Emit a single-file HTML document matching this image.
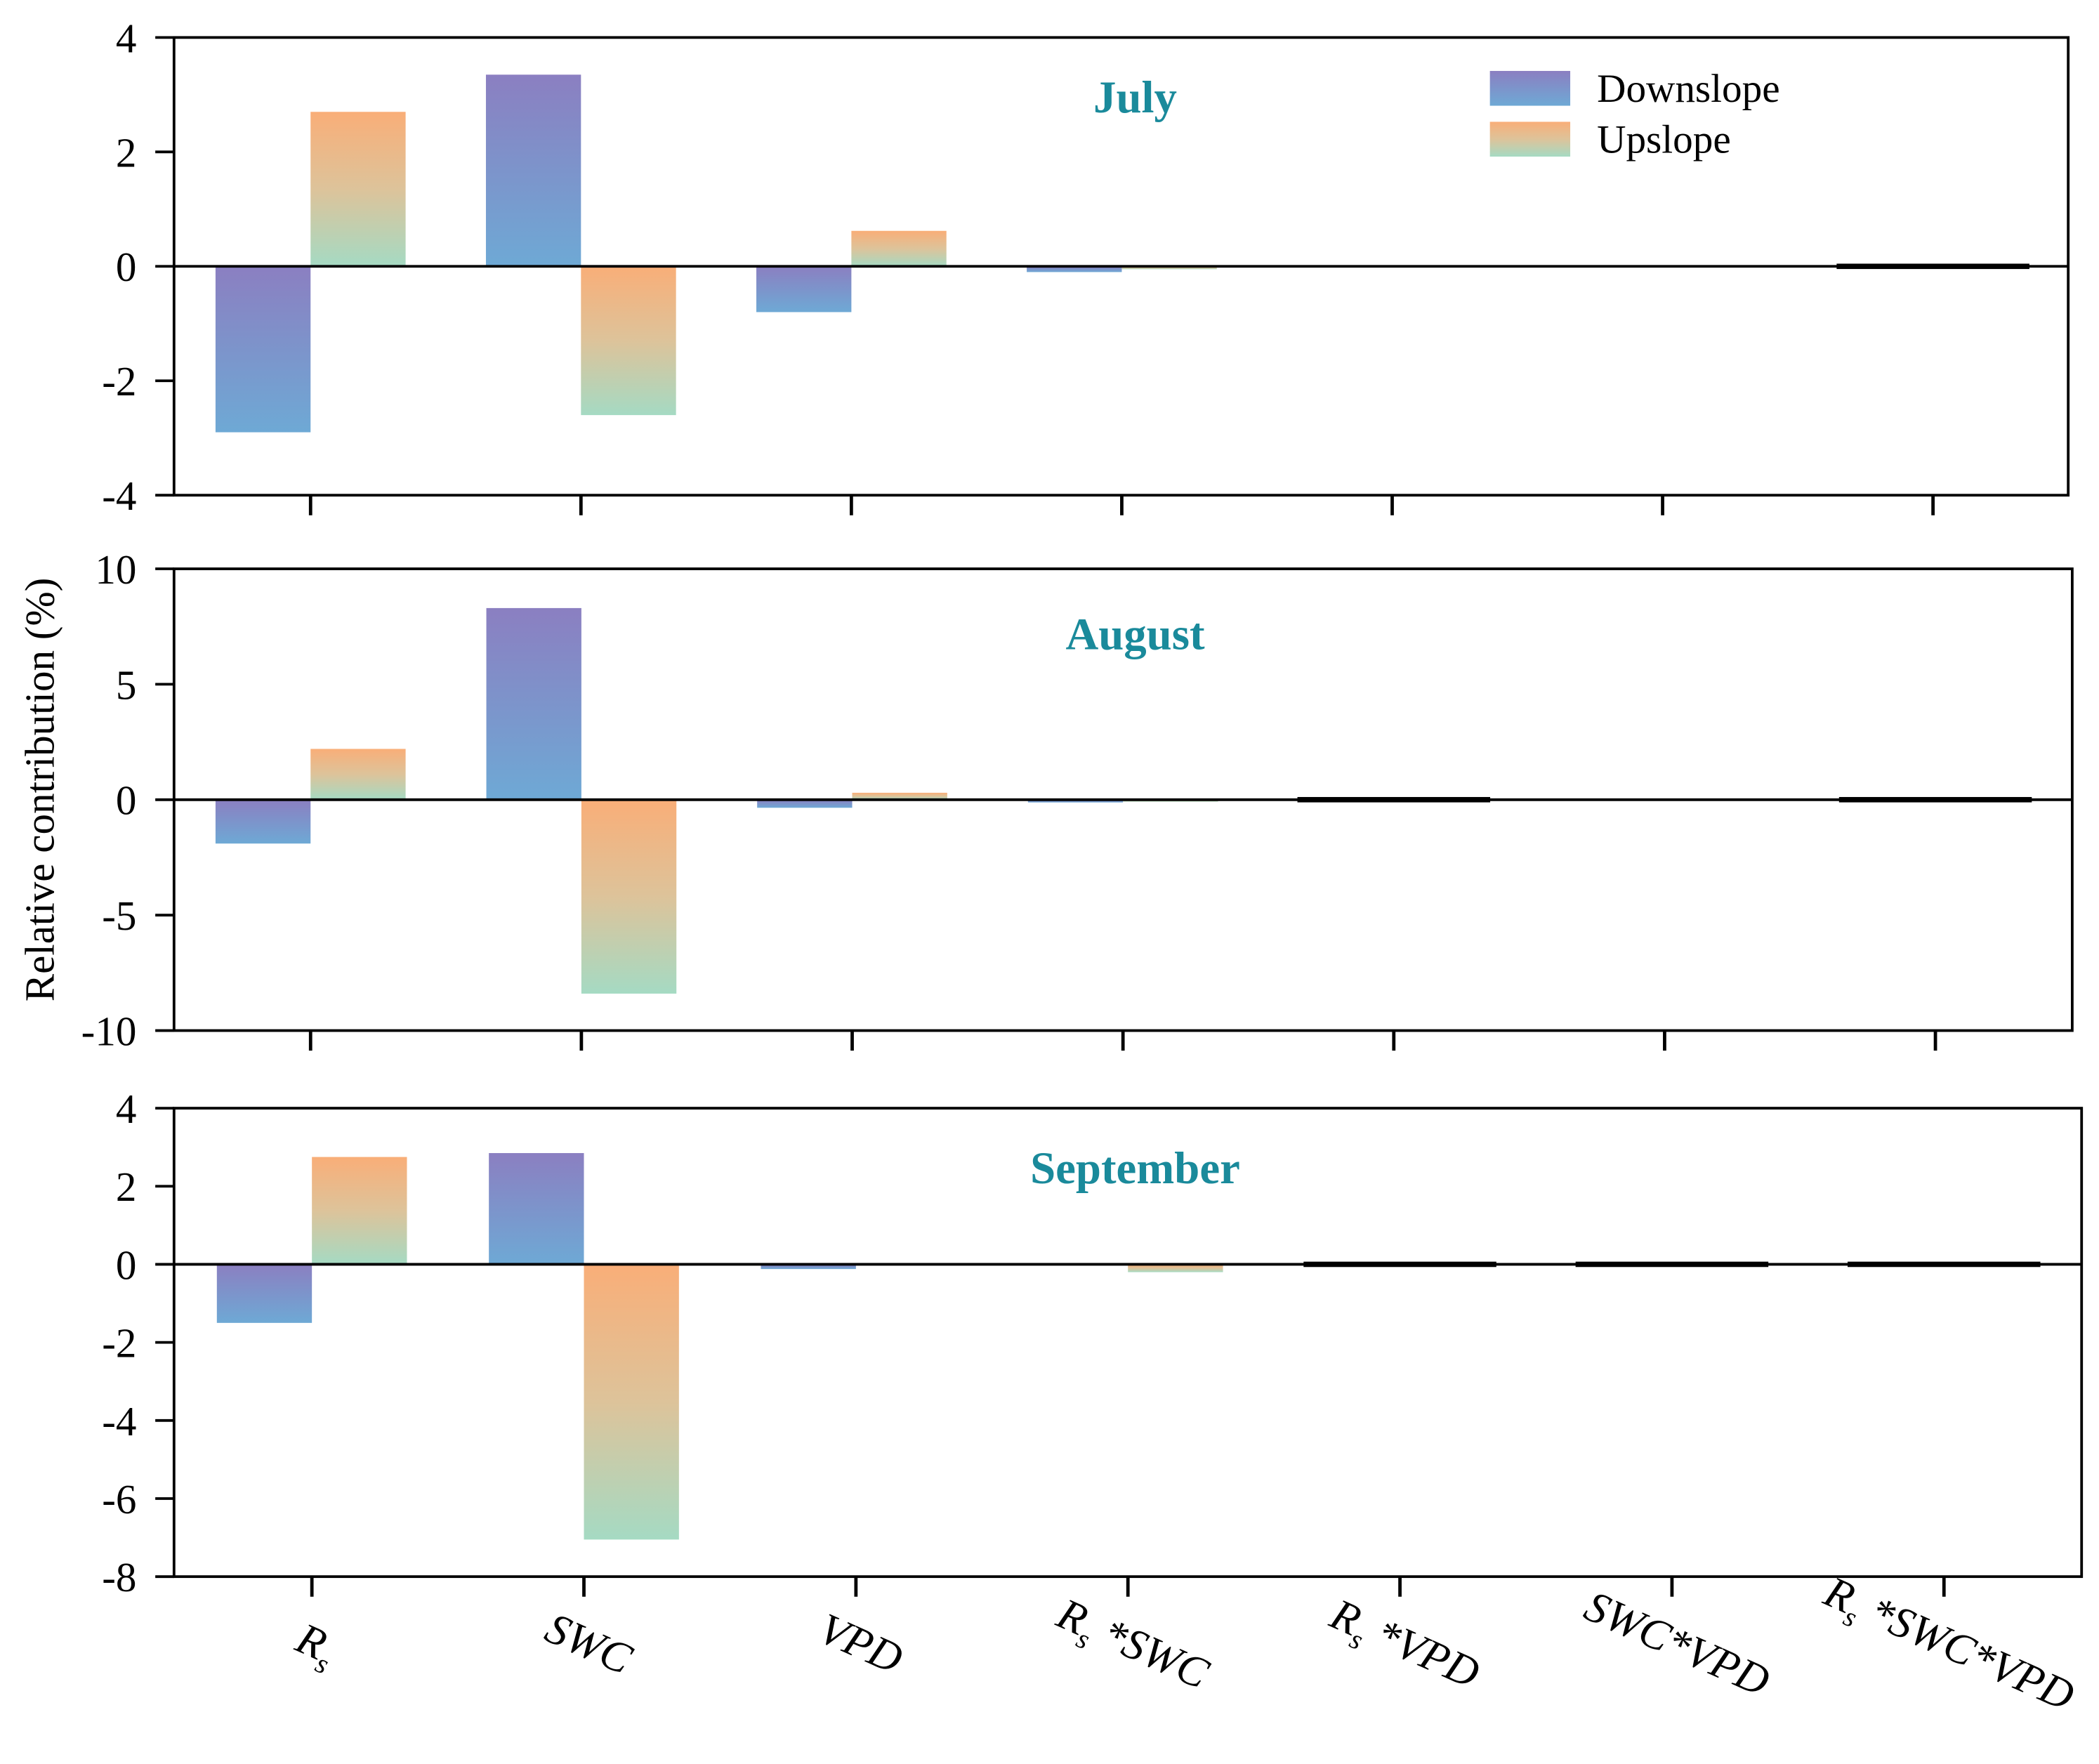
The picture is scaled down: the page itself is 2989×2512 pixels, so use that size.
<!DOCTYPE html>
<html><head><meta charset="utf-8"><style>html,body{margin:0;padding:0;background:#fff}svg{display:block}</style></head>
<body>
<svg id="chart" width="2989" height="2512" viewBox="0 0 1568 1318" preserveAspectRatio="none" xmlns="http://www.w3.org/2000/svg" font-family="'Liberation Serif', serif">
<defs>
<linearGradient id="gDown" x1="0" y1="0" x2="0" y2="1"><stop offset="0" stop-color="#8b7fc1"/><stop offset="1" stop-color="#6ea9d5"/></linearGradient>
<linearGradient id="gUp" x1="0" y1="0" x2="0" y2="1"><stop offset="0" stop-color="#f9ae78"/><stop offset="0.5" stop-color="#ddc39a"/><stop offset="1" stop-color="#a5dac3"/></linearGradient>
</defs>
<g id="root"></g>
</svg>
<script>
const categories = ["Rs","SWC","VPD","Rs*SWC","Rs*VPD","SWC*VPD","Rs*SWC*VPD"];
const months = ["July","August","September"];
const julyDown = [-2.9, 3.35, -0.8, -0.1, 0, 0, 0];
const julyUp = [2.7, -2.6, 0.62, -0.05, 0, 0, 0];
const julyLine = [0,0,0,0,0,0,1];
const augDown = [-1.9, 8.3, -0.35, -0.12, 0, 0, 0];
const augUp = [2.2, -8.4, 0.3, -0.08, 0, 0, 0];
const augLine = [0,0,0,0,1,0,1];
const sepDown = [-1.5, 2.85, -0.12, 0, 0, 0, 0];
const sepUp = [2.75, -7.05, 0, -0.2, 0, 0, 0];
const sepLine = [0,0,0,0,1,1,1];
const julyTicks = [4,2,0,-2,-4];
const augTicks = [10,5,0,-5,-10];
const sepTicks = [4,2,0,-2,-4,-6,-8];

const NS="http://www.w3.org/2000/svg";
const root=document.getElementById('root');
function mk(t,a,p){const e=document.createElementNS(NS,t);for(const k in a)e.setAttribute(k,a[k]);(p||root).appendChild(e);return e;}

const panels=[
 {name:"july",title:months[0],down:julyDown,up:julyUp,line:julyLine,ticks:julyTicks,min:-4,max:4,L:130,R:1545,T:28,B:370,x0:232,step:202,ty:72},
 {name:"august",title:months[1],down:augDown,up:augUp,line:augLine,ticks:augTicks,min:-10,max:10,L:130,R:1548,T:425,B:770,x0:232,step:202.3,ty:473},
 {name:"september",title:months[2],down:sepDown,up:sepUp,line:sepLine,ticks:sepTicks,min:-8,max:4,L:130,R:1555,T:828,B:1178,x0:233,step:203.2,ty:872}
];
panels.forEach(p=>{
 const g=mk('g',{});
 
 
 const y=v=>p.T+(p.max-v)/(p.max-p.min)*(p.B-p.T);
 const x=i=>p.x0+i*p.step;
 const bw=71;
 categories.forEach((c,i)=>{
  [[p.down[i],x(i)-bw,'url(#gDown)','down'],[p.up[i],x(i),'url(#gUp)','up']].forEach(([v,bx,f,s])=>{
   if(v===0)return;
   const y1=Math.min(y(v),y(0)),h=Math.abs(y(v)-y(0));
   const r=mk('rect',{x:bx,y:y1,width:bw,height:Math.max(h,1.5),fill:f},g);
   
   
  });
  if(p.line[i]){
   const l=mk('rect',{x:x(i)-72,y:y(0)-2,width:144,height:4,fill:'#000'},g);
   
   
  }
  const t=mk('line',{x1:x(i),x2:x(i),y1:p.B,y2:p.B+15,stroke:'#000','stroke-width':2.5},g);
  
  
 });
 mk('line',{x1:p.L,x2:p.R,y1:y(0),y2:y(0),stroke:'#000','stroke-width':2},g);
 const fr=mk('rect',{x:p.L,y:p.T,width:p.R-p.L,height:p.B-p.T,fill:'none',stroke:'#000','stroke-width':2},g);
 
 
 p.ticks.forEach(v=>{
  mk('line',{x1:p.L-14,x2:p.L,y1:y(v),y2:y(v),stroke:'#000','stroke-width':2},g);
  const tl=mk('text',{x:p.L-28,y:y(v)+11,'text-anchor':'end','font-size':31,fill:'#000'},g);
  tl.textContent=v;
  
  
 });
 const tt=mk('text',{x:848,y:p.ty+12,'text-anchor':'middle','font-size':34,'font-weight':'bold',fill:'#1a8a9b'},g);
 tt.textContent=p.title;
 
 
});
// x labels
const labHTML=['<tspan font-style="italic">R</tspan><tspan font-size="21" dy="8">s</tspan>','SWC','VPD',
'<tspan font-style="italic">R</tspan><tspan font-size="21" dy="8">s</tspan><tspan dy="-8"> *SWC</tspan>',
'<tspan font-style="italic">R</tspan><tspan font-size="21" dy="8">s</tspan><tspan dy="-8"> *VPD</tspan>','SWC*VPD',
'<tspan font-style="italic">R</tspan><tspan font-size="21" dy="8">s</tspan><tspan dy="-8"> *SWC*VPD</tspan>'];
categories.forEach((c,i)=>{
 const cx=232+i*203.3, cy=1238;
 const t=mk('text',{x:cx,y:cy,'font-size':33,'font-style':'italic','text-anchor':'middle',transform:`rotate(24 ${cx} ${cy})`});
 t.innerHTML=labHTML[i];
 
 
});
const yl=mk('text',{x:0,y:0,'font-size':31,'text-anchor':'middle',transform:'translate(40 590) rotate(-90)'});
yl.textContent='Relative contribution (%)';


// legend
const lg=mk('g',{});


[['Downslope','url(#gDown)',53],['Upslope','url(#gUp)',91]].forEach(([n,f,yy])=>{
 const r=mk('rect',{x:1113,y:yy,width:60,height:26,fill:f},lg);
 
 
 const t=mk('text',{x:1193,y:yy+23,'font-size':30},lg);
 t.textContent=n;
 
 
});
</script>
</body></html>
